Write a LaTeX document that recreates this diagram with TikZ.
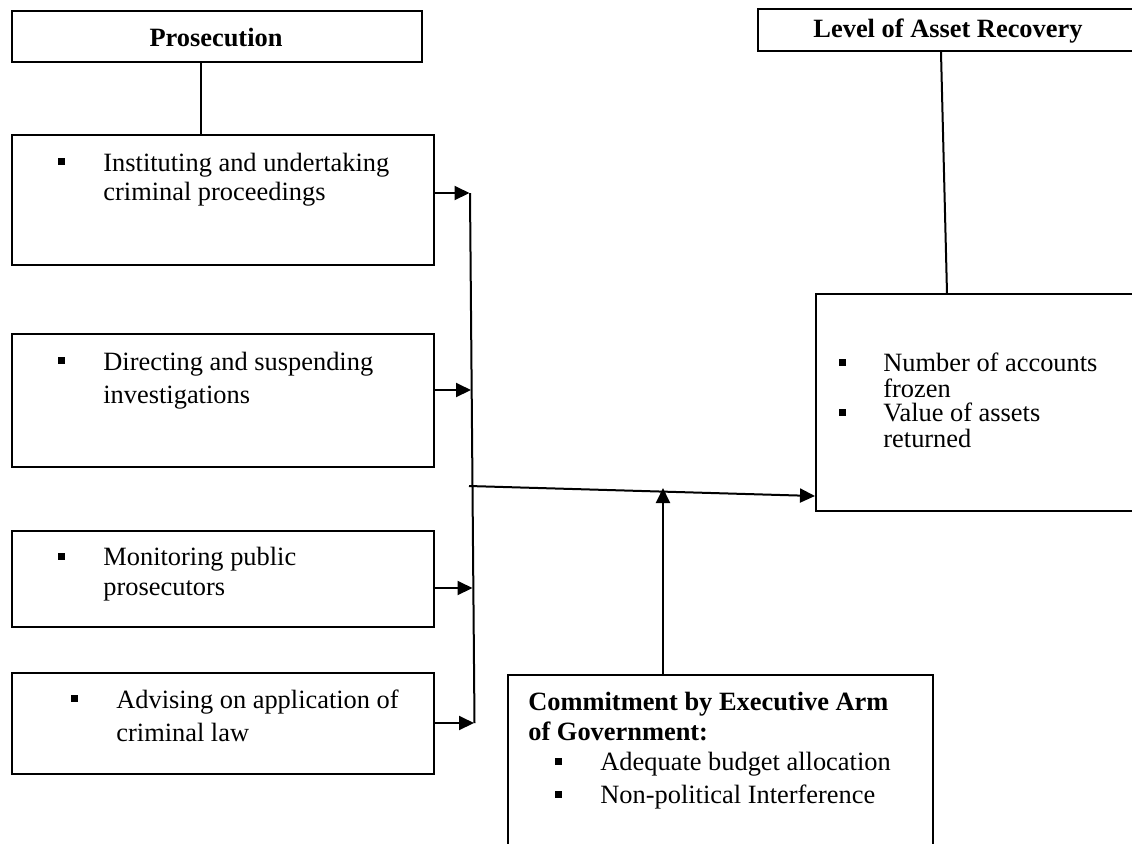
\documentclass[tikz,border=0pt]{standalone}
\usepackage{fontspec}
\setmainfont{Liberation Serif}
\usetikzlibrary{arrows.meta}
\newcommand\txtlines[2]{{\fontsize{13.2}{#1}\selectfont\begin{tabular}[t]{@{}l@{}}#2\end{tabular}}}
\begin{document}
\begin{tikzpicture}[x=0.5pt,y=-0.5pt,
  box/.style={draw, line width=1pt, rectangle, inner sep=0pt, anchor=north west},
  txt/.style={inner sep=0pt, anchor=base west},
  ttl/.style={inner sep=0pt, anchor=base, font=\fontsize{13.2}{15}\selectfont\bfseries},
  sq/.style={fill, inner sep=0pt, minimum size=3.5pt, rectangle},
  ln/.style={line width=1pt},
  arr/.style={line width=1pt, -{Triangle[length=7.5pt,width=7pt]}}]
\useasboundingbox (0,0) rectangle (1132,843);
\clip (0,0) rectangle (1132,843);

% left column
\node[box, minimum width=205pt, minimum height=25.5pt] (pros) at (11,10) {};
\node[ttl] (prost) at (216,46) {Prosecution};

\node[box, minimum width=211pt, minimum height=65pt] (b1) at (11,134) {};
\node[sq] (s1) at (61,161.5) {};
\node[txt] (t1) at (103,171) {\txtlines{14.5}{Instituting and undertaking\\criminal proceedings}};

\node[box, minimum width=211pt, minimum height=66.5pt] (b2) at (11,333) {};
\node[sq] (s2) at (61,360.5) {};
\node[txt] (t2) at (103,370) {\txtlines{16.5}{Directing and suspending\\investigations}};

\node[box, minimum width=211pt, minimum height=48pt] (b3) at (11,530) {};
\node[sq] (s3) at (61,556) {};
\node[txt] (t3) at (103,565) {\txtlines{15}{Monitoring public\\prosecutors}};

\node[box, minimum width=211pt, minimum height=50.5pt] (b4) at (11,672) {};
\node[sq] (s4) at (74,698.5) {};
\node[txt] (t4) at (116,708) {\txtlines{16.5}{Advising on application of\\criminal law}};

% right column
\node[box, minimum width=191.5pt, minimum height=21pt] (lar) at (757,8) {};
\node[ttl] (lart) at (948,37) {Level of Asset Recovery};

\node[box, minimum width=162.5pt, minimum height=108.5pt] (rb) at (815,293) {};
\node[sq] (s5) at (842,362) {};
\node[sq] (s6) at (842,412) {};
\node[txt] (t5) at (883,371) {\txtlines{13}{Number of accounts\\frozen}};
\node[txt] (t6) at (883,421) {\txtlines{13}{Value of assets\\returned}};

% commitment box
\node[box, minimum width=212.5pt, minimum height=100pt] (cb) at (507,674) {};
\node[txt, font=\bfseries] (t7) at (528,710) {\txtlines{15}{\bfseries Commitment by Executive Arm\\\bfseries of Government:}};
\node[sq] (s7) at (558,761) {};
\node[sq] (s8) at (558,794) {};
\node[txt] (t8) at (600,770) {\txtlines{16.5}{Adequate budget allocation\\Non-political Interference}};

% connectors
\coordinate (px) at (201,0);
\draw[ln] (pros.south -| px) -- (b1.north -| px);

\coordinate (ct) at (470,193);
\coordinate (cend) at (474.5,723);
\draw[ln] (ct) -- (cend);

\coordinate (e1) at (469.5,193);
\coordinate (e2) at (471,390);
\coordinate (e3) at (472.5,588);
\coordinate (e4) at (474,723);
\draw[arr] (b1.east |- e1) -- (e1);
\draw[arr] (b2.east |- e2) -- (e2);
\draw[arr] (b3.east |- e3) -- (e3);
\draw[arr] (b4.east |- e4) -- (e4);

\coordinate (h0) at (469,486);
\coordinate (h1) at (0,496);
\draw[arr] (h0) -- (rb.west |- h1);

\coordinate (u1) at (663,488);
\draw[arr] (cb.north -| u1) -- (u1);

\coordinate (l1) at (941,0);
\coordinate (l2) at (947,0);
\draw[ln] (lar.south -| l1) -- (rb.north -| l2);
\end{tikzpicture}
\end{document}
